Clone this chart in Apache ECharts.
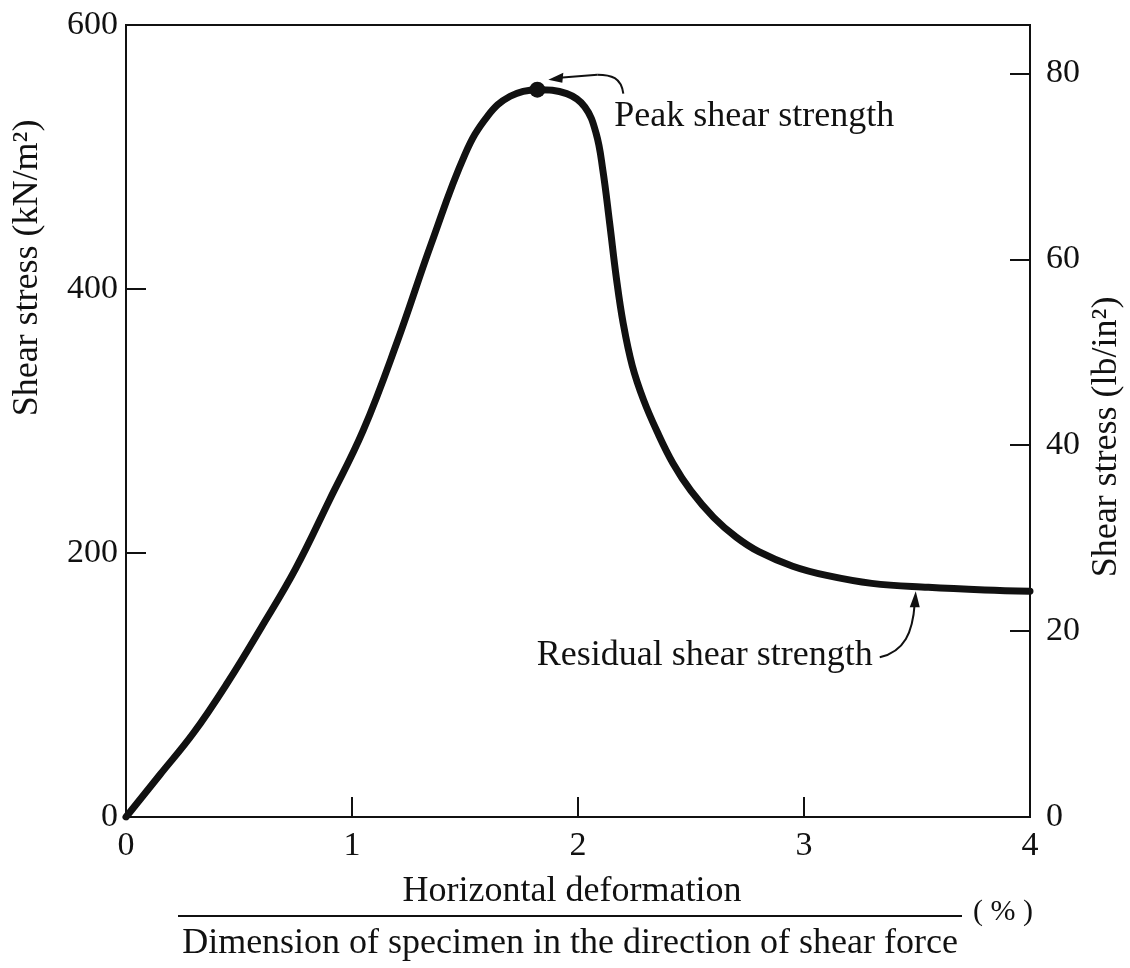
<!DOCTYPE html>
<html>
<head>
<meta charset="utf-8">
<title>Shear stress vs horizontal deformation</title>
<script src="https://cdn.jsdelivr.net/npm/echarts@6/dist/echarts.min.js"></script>
<style>
  html, body { margin: 0; padding: 0; background: #fff; }
  #chart { width: 1130px; height: 968px; }
</style>
</head>
<body>
<div id="chart"></div>
<script>
// Horizontal deformation / specimen dimension (%)
const deformation = [0, 0.15, 0.30, 0.45, 0.60, 0.75, 0.90, 1.05, 1.20, 1.35, 1.50, 1.60, 1.70, 1.82,
                     1.95, 2.03, 2.08, 2.11, 2.14, 2.17, 2.20, 2.24, 2.29, 2.35, 2.42, 2.50, 2.60,
                     2.70, 2.80, 2.95, 3.10, 3.30, 3.55, 3.80, 4.00];
// Shear stress (kN/m²)
const shearStress = [0, 32, 64, 102, 144, 188, 240, 293, 360, 434, 502, 531, 546, 551,
                     548, 538, 518, 490, 450, 408, 374, 342, 316, 292, 268, 247, 227,
                     212, 201, 190, 183, 177, 174, 172, 171];
const peakPoint = [1.82, 551];
const residualPoint = [3.49, 174];

const xTicks = { min: 0, max: 4, interval: 1 };
const kNTicks = { min: 0, max: 600, interval: 200 };
const psiTicks = { min: 0, max: 85.2, interval: 20 };

const labels = {
  yLeft: 'Shear stress (kN/m²)',
  yRight: 'Shear stress (lb/in²)',
  xTop: 'Horizontal deformation',
  xBottom: 'Dimension of specimen in the direction of shear force',
  xUnit: '( % )',
  peak: 'Peak shear strength',
  residual: 'Residual shear strength'
};

const FONT = "'Liberation Serif', 'DejaVu Serif', serif";
const INK = '#111';

const chart = echarts.init(document.getElementById('chart'), null, { renderer: 'canvas' });

const curve = deformation.map((x, i) => [x, shearStress[i]]);

const axisCommon = {
  axisLine: { show: true, lineStyle: { color: INK, width: 2 } },
  axisTick: { show: true, inside: true, length: 20, lineStyle: { color: INK, width: 2 } },
  splitLine: { show: false },
  axisLabel: { color: INK, fontFamily: FONT, fontSize: 34 }
};

chart.setOption({
  animation: false,
  backgroundColor: '#fff',
  grid: { left: 126, right: 100, top: 25, bottom: 151, show: true, borderColor: INK, borderWidth: 2 },
  xAxis: {
    type: 'value', min: xTicks.min, max: xTicks.max, interval: xTicks.interval,
    ...axisCommon,
    axisLabel: { ...axisCommon.axisLabel, margin: 12 }
  },
  yAxis: [
    {
      type: 'value', position: 'left', min: kNTicks.min, max: kNTicks.max, interval: kNTicks.interval,
      ...axisCommon,
      axisLabel: { ...axisCommon.axisLabel, margin: 8 }
    },
    {
      type: 'value', position: 'right', min: psiTicks.min, max: psiTicks.max, interval: psiTicks.interval,
      ...axisCommon,
      axisLabel: { ...axisCommon.axisLabel, margin: 16, showMaxLabel: false }
    }
  ],
  series: [
    {
      type: 'line', data: curve, smooth: 0.4, showSymbol: false,
      lineStyle: { color: INK, width: 7, cap: 'round', join: 'round' }
    },
    {
      type: 'scatter', data: [peakPoint], symbol: 'circle', symbolSize: 16,
      itemStyle: { color: INK, opacity: 1 }, z: 5
    }
  ]
});

// Annotation text and arrows, anchored to the peak and residual points
const pk = chart.convertToPixel({ gridIndex: 0 }, peakPoint);
const rs = chart.convertToPixel({ gridIndex: 0 }, residualPoint);

const textStyle = (text, extra) => ({ text, fill: INK, font: `36px ${FONT}`, ...extra });
const stroke = { stroke: INK, lineWidth: 2, fill: null };

chart.setOption({
  graphic: [
    // axis titles
    { type: 'text', x: 28, y: 268, rotation: Math.PI / 2,
      style: textStyle(labels.yLeft, { align: 'center', verticalAlign: 'middle' }) },
    { type: 'text', x: 1107, y: 437, rotation: Math.PI / 2,
      style: textStyle(labels.yRight, { align: 'center', verticalAlign: 'middle' }) },
    { type: 'text', x: 572, y: 892,
      style: textStyle(labels.xTop, { align: 'center', verticalAlign: 'middle' }) },
    { type: 'line', shape: { x1: 178, y1: 916, x2: 962, y2: 916 },
      style: { stroke: INK, lineWidth: 2 } },
    { type: 'text', x: 1003, y: 912,
      style: textStyle(labels.xUnit, { align: 'center', verticalAlign: 'middle', font: `30px ${FONT}` }) },
    { type: 'text', x: 570, y: 944,
      style: textStyle(labels.xBottom, { align: 'center', verticalAlign: 'middle' }) },

    // peak annotation
    { type: 'text', x: pk[0] + 77, y: pk[1] + 27,
      style: textStyle(labels.peak, { align: 'left', verticalAlign: 'middle' }) },
    { type: 'bezierCurve', shape: {
        x1: pk[0] + 86, y1: pk[1] + 4,
        cpx1: pk[0] + 84, cpy1: pk[1] - 12,
        cpx2: pk[0] + 74, cpy2: pk[1] - 15,
        x2: pk[0] + 60, y2: pk[1] - 15 },
      style: stroke },
    { type: 'line', shape: { x1: pk[0] + 60, y1: pk[1] - 15, x2: pk[0] + 22, y2: pk[1] - 12 },
      style: stroke },
    { type: 'polygon', shape: { points: [[pk[0] + 11, pk[1] - 10], [pk[0] + 26, pk[1] - 17], [pk[0] + 25, pk[1] - 7]] },
      style: { fill: INK } },

    // residual annotation
    { type: 'text', x: rs[0] - 42, y: rs[1] + 68,
      style: textStyle(labels.residual, { align: 'right', verticalAlign: 'middle' }) },
    { type: 'bezierCurve', shape: {
        x1: rs[0], y1: rs[1] + 16,
        cpx1: rs[0] - 2, cpy1: rs[1] + 45,
        cpx2: rs[0] - 10, cpy2: rs[1] + 64,
        x2: rs[0] - 35, y2: rs[1] + 70 },
      style: stroke },
    { type: 'polygon', shape: { points: [[rs[0] + 1, rs[1] + 4], [rs[0] - 5, rs[1] + 20], [rs[0] + 5, rs[1] + 20]] },
      style: { fill: INK } }
  ]
});
</script>
</body>
</html>
